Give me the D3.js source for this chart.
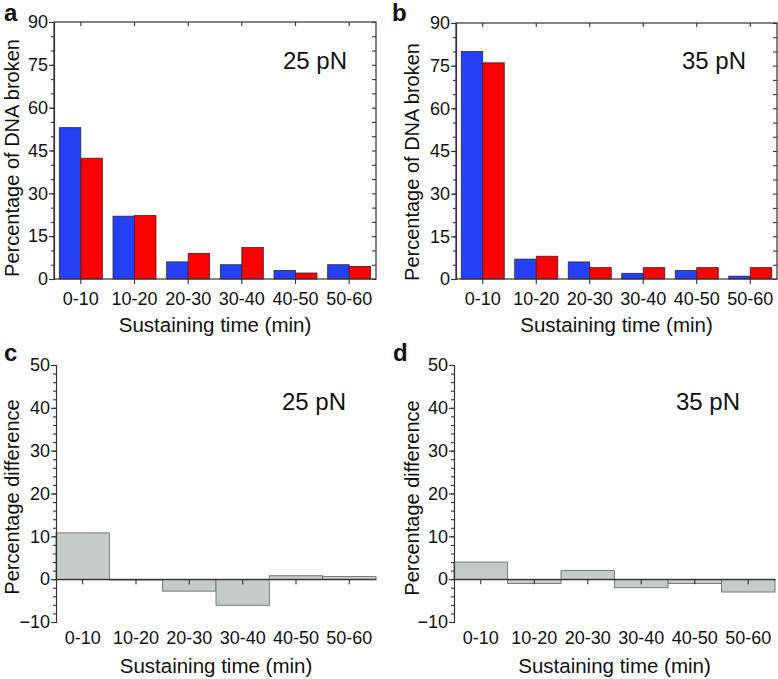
<!DOCTYPE html>
<html><head><meta charset="utf-8">
<script src="https://cdn.jsdelivr.net/npm/d3@7"></script>
<style>
body{margin:0;background:#fff;}
text{font-family:"Liberation Sans",Arial,sans-serif;fill:#111;}
</style></head>
<body>
<svg id="chart" width="778" height="679"></svg>
<script>
const categories = ["0-10","10-20","20-30","30-40","40-50","50-60"];
// Panel a (25 pN)
const a_blue = [53, 22, 6, 5, 3, 5];
const a_red  = [42.3, 22.2, 9, 11, 2.1, 4.4];
// Panel b (35 pN)
const b_blue = [80, 7, 6, 2, 3, 1];
const b_red  = [76, 8, 4, 4, 4, 4];
// Panel c / d differences
const c_diff = [10.8, -0.2, -2.8, -6.1, 0.8, 0.6];
const d_diff = [4, -1, 2, -2, -1, -3];
const topTicks = [0, 15, 30, 45, 60, 75, 90];
const topMinor = d3.range(0, 91, 5);
const bottomTicks = [-10, 0, 10, 20, 30, 40, 50];
const bottomMinor = d3.range(-10, 51, 2);

const BLUE = "#2540f2", RED = "#fa0000", GRAY = "#c5cbc8";
const svg = d3.select("#chart");

function styleAxis(g){
  g.selectAll("path").attr("stroke","#333").attr("stroke-width",1.2);
  g.selectAll("line").attr("stroke","#333").attr("stroke-width",1.1);
  g.selectAll("text").attr("font-size",18).attr("fill","#111")
   .attr("font-family",'"Liberation Sans",Arial,sans-serif');
}

function groupedPanel(o){
  const x = d3.scaleBand().domain(categories).range([o.x0,o.x1]).padding(0);
  const y = d3.scaleLinear().domain([0,90]).range([o.yb,o.yt]);
  const g = svg.append("g");
  const bw = 21.5;
  categories.forEach((c,i)=>{
    const cx = x(c)+x.bandwidth()/2;
    g.append("rect").attr("x",cx-bw).attr("y",y(o.blue[i])).attr("width",bw)
      .attr("height",y(0)-y(o.blue[i])).attr("fill",BLUE).attr("stroke","#2a2a40").attr("stroke-width",0.8);
    g.append("rect").attr("x",cx).attr("y",y(o.red[i])).attr("width",bw)
      .attr("height",y(0)-y(o.red[i])).attr("fill",RED).attr("stroke","#402020").attr("stroke-width",0.8);
  });
  // frame
  g.append("rect").attr("x",o.x0).attr("y",o.yt).attr("width",o.x1-o.x0).attr("height",o.yb-o.yt)
    .attr("fill","none").attr("stroke","#333").attr("stroke-width",1.2);
  // left axis major
  g.append("g").attr("transform",`translate(${o.x0},0)`)
    .call(d3.axisLeft(y).tickValues(topTicks).tickSize(5).tickPadding(1).tickFormat(d3.format("d")))
    .call(styleAxis);
  g.append("g").attr("transform",`translate(${o.x0},0)`)
    .call(d3.axisLeft(y).tickValues(topMinor).tickSize(3).tickFormat(""))
    .call(styleAxis).select(".domain").remove();
  // right axis inward
  g.append("g").attr("transform",`translate(${o.x1},0)`)
    .call(d3.axisRight(y).tickValues(topMinor).tickSize(-4).tickFormat(""))
    .call(styleAxis).select(".domain").remove();
  // bottom axis
  g.append("g").attr("transform",`translate(0,${o.yb})`)
    .call(d3.axisBottom(x).tickSize(5).tickPadding(8))
    .call(styleAxis).select(".domain").remove();
  // top ticks inward
  g.append("g").attr("transform",`translate(0,${o.yt})`)
    .call(d3.axisTop(x).tickSize(-4).tickFormat(""))
    .call(styleAxis).select(".domain").remove();
  // titles
  g.append("text").attr("x",(o.x0+o.x1)/2).attr("y",332).attr("text-anchor","middle")
    .attr("font-size",20.5).text("Sustaining time (min)");
  g.append("text").attr("transform",`translate(${o.ytx},${o.yty}) rotate(-90)`).attr("text-anchor","middle")
    .attr("font-size",20).text("Percentage of DNA broken");
  g.append("text").attr("x",o.lx).attr("y",69).attr("font-size",24).text(o.label);
  g.append("text").attr("x",o.px).attr("y",21).attr("font-size",24).attr("font-weight","bold").text(o.letter);
}

function diffPanel(o){
  const x = d3.scaleBand().domain(categories).range([o.x0,o.x1]).padding(0);
  const y = d3.scaleLinear().domain([-10,50]).range([622,365]);
  const g = svg.append("g");
  categories.forEach((c,i)=>{
    const v = o.vals[i];
    g.append("rect").attr("x",x(c)).attr("y",y(Math.max(v,0)))
      .attr("width",x.bandwidth()).attr("height",Math.abs(y(v)-y(0)))
      .attr("fill",GRAY).attr("stroke","#6e7270").attr("stroke-width",0.9);
  });
  // left axis
  g.append("g").attr("transform",`translate(${o.x0},0)`)
    .call(d3.axisLeft(y).tickValues(bottomTicks).tickSize(5).tickPadding(1).tickFormat(d3.format("d")))
    .call(styleAxis);
  g.append("g").attr("transform",`translate(${o.x0},0)`)
    .call(d3.axisLeft(y).tickValues(bottomMinor).tickSize(3).tickFormat(""))
    .call(styleAxis).select(".domain").remove();
  // zero line with ticks
  g.append("g").attr("transform",`translate(0,${y(0)})`)
    .call(d3.axisBottom(x).tickSize(5).tickSizeOuter(0).tickFormat(""))
    .call(styleAxis);
  // category labels at bottom
  g.append("g").attr("transform",`translate(0,${y(-10)})`)
    .call(d3.axisBottom(x).tickSize(0).tickPadding(9))
    .call(styleAxis).call(gg=>{gg.select(".domain").remove();gg.selectAll("line").remove();});
  g.append("text").attr("x",(o.x0+o.x1)/2).attr("y",673).attr("text-anchor","middle")
    .attr("font-size",20.5).text("Sustaining time (min)");
  g.append("text").attr("transform",`translate(${o.ytx},${o.yty}) rotate(-90)`).attr("text-anchor","middle")
    .attr("font-size",20).text("Percentage difference");
  g.append("text").attr("x",o.lx).attr("y",410).attr("font-size",24).text(o.label);
  g.append("text").attr("x",o.px).attr("y",361).attr("font-size",24).attr("font-weight","bold").text(o.letter);
}

groupedPanel({x0:54,x1:376,yt:22,yb:279,blue:a_blue,red:a_red,label:"25 pN",lx:283,letter:"a",px:4,ytx:19,yty:158});
groupedPanel({x0:456,x1:777,yt:23,yb:279,blue:b_blue,red:b_red,label:"35 pN",lx:682,letter:"b",px:392,ytx:419,yty:162});
diffPanel({x0:56,x1:376,vals:c_diff,label:"25 pN",lx:282,letter:"c",px:4,ytx:19,yty:497});
diffPanel({x0:454,x1:775,vals:d_diff,label:"35 pN",lx:676,letter:"d",px:393,ytx:419,yty:498});
</script>
</body></html>
